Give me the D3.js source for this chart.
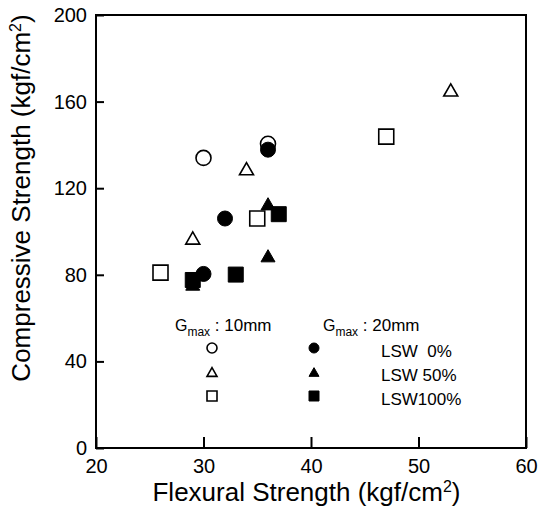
<!DOCTYPE html>
<html>
<head>
<meta charset="utf-8">
<style>
  body { margin: 0; background: #fff; }
  svg { position: absolute; top: 0px; left: 0px; font-family: "Liberation Sans", Arial, sans-serif; }
  .frame { fill: none; stroke: #000; stroke-width: 2px; }
  .open { fill: #fff; stroke: #000; stroke-width: 1.6px; }
  .filled { fill: #000; stroke: #000; stroke-width: 1px; }
  .tick line { stroke: #000; stroke-width: 2px; }
  .tick text { font-size: 20px; fill: #000; }
</style>
<script src="https://cdnjs.cloudflare.com/ajax/libs/d3/7.8.5/d3.min.js"></script>
</head>
<body>
<svg width="540" height="510"></svg>
<script>
// data: [flexural, compressive]
var g10_lsw0   = [[30, 134], [36, 140.5]];
var g10_lsw50  = [[29, 97], [34, 129], [53, 165.4]];
var g10_lsw100 = [[26, 81], [35, 106], [47, 143.8]];
var g20_lsw0   = [[30, 80.4], [32, 106], [36, 137.8]];
var g20_lsw50  = [[29, 75.7], [36, 88.8], [36, 112.8]];
var g20_lsw100 = [[29, 77.6], [33, 80.1], [37, 108]];

var xTicks = [20, 30, 40, 50, 60];
var yTicks = [0, 40, 80, 120, 160, 200];
var legendRows = ["LSW  0%", "LSW 50%", "LSW100%"];

var svg = d3.select("svg");
var pLeft = 96, pRight = 526, pTop = 15, pBottom = 448;

var x = d3.scaleLinear().domain([20, 60]).range([pLeft, pRight]);
var y = d3.scaleLinear().domain([0, 200]).range([pBottom, pTop]);

// triangle centred on its bounding box
var triBox = {
  draw: function(ctx, size) {
    var w = Math.sqrt(size), h = w * 0.87;
    ctx.moveTo(0, -h / 2);
    ctx.lineTo(w / 2, h / 2);
    ctx.lineTo(-w / 2, h / 2);
    ctx.closePath();
  }
};

function shape(type, s) {
  if (type == "circle") return d3.symbol(d3.symbolCircle, Math.PI * s * s / 4)();
  if (type == "square") return d3.symbol(d3.symbolSquare, s * s)();
  return d3.symbol(triBox, s * s)();
}

// axes
var xAxis = d3.axisBottom(x).tickValues(xTicks).tickSizeInner(-11).tickSizeOuter(0).tickPadding(11);
var yAxis = d3.axisLeft(y).tickValues(yTicks).tickSizeInner(-8).tickSizeOuter(0).tickPadding(9);

svg.append("g").attr("transform", "translate(0," + pBottom + ")").call(xAxis)
  .call(function(g) { g.select(".domain").remove(); });
svg.append("g").attr("transform", "translate(" + pLeft + ",0)").call(yAxis)
  .call(function(g) { g.select(".domain").remove(); });
svg.selectAll(".tick text").attr("font-family", null).attr("font-size", null);

svg.append("rect").attr("class", "frame")
  .attr("x", pLeft).attr("y", pTop).attr("width", pRight - pLeft).attr("height", pBottom - pTop);

// axis titles
var xt = svg.append("text").attr("x", 306.5).attr("y", 501).attr("text-anchor", "middle")
  .attr("font-size", 26);
xt.append("tspan").text("Flexural Strength (kgf/cm");
xt.append("tspan").attr("font-size", 16).attr("dy", -9).text("2");
xt.append("tspan").attr("dy", 9).text(")");

var yt = svg.append("text").attr("transform", "translate(30,198) rotate(-90)")
  .attr("text-anchor", "middle").attr("font-size", 26);
yt.append("tspan").text("Compressive Strength (kgf/cm");
yt.append("tspan").attr("font-size", 16).attr("dy", -9).text("2");
yt.append("tspan").attr("dy", 9).text(")");

// markers: open first, filled drawn over them
var series = [
  { data: g10_lsw0, type: "circle", cls: "open", size: 15 },
  { data: g10_lsw50, type: "triangle", cls: "open", size: 14 },
  { data: g10_lsw100, type: "square", cls: "open", size: 15 },
  { data: g20_lsw0, type: "circle", cls: "filled", size: 15 },
  { data: g20_lsw50, type: "triangle", cls: "filled", size: 14 },
  { data: g20_lsw100, type: "square", cls: "filled", size: 15 }
];

series.forEach(function(s) {
  svg.append("g").selectAll("path").data(s.data).enter().append("path")
    .attr("class", s.cls)
    .attr("d", shape(s.type, s.size))
    .attr("transform", function(d) { return "translate(" + x(d[0]) + "," + y(d[1]) + ")"; });
});

// legend
function gmaxTitle(px, label) {
  var t = svg.append("text").attr("x", px).attr("y", 331).attr("font-size", 17);
  t.append("tspan").attr("font-size", 16).text("G");
  t.append("tspan").attr("font-size", 12).attr("dy", 5).text("max");
  t.append("tspan").attr("dy", -5).text(" : " + label);
}
gmaxTitle(175, "10mm");
gmaxTitle(323, "20mm");

var types = ["circle", "triangle", "square"];
var rowY = [348, 372, 396];
types.forEach(function(t, i) {
  svg.append("path").attr("class", "open").attr("stroke-width", 1.3)
    .attr("d", shape(t, 10)).attr("transform", "translate(212," + rowY[i] + ")");
  svg.append("path").attr("class", "filled")
    .attr("d", shape(t, 10)).attr("transform", "translate(314," + rowY[i] + ")");
  svg.append("text").attr("x", 381).attr("y", rowY[i] + 9).attr("font-size", 17)
    .style("white-space", "pre").text(legendRows[i]);
});
</script>
</body>
</html>
